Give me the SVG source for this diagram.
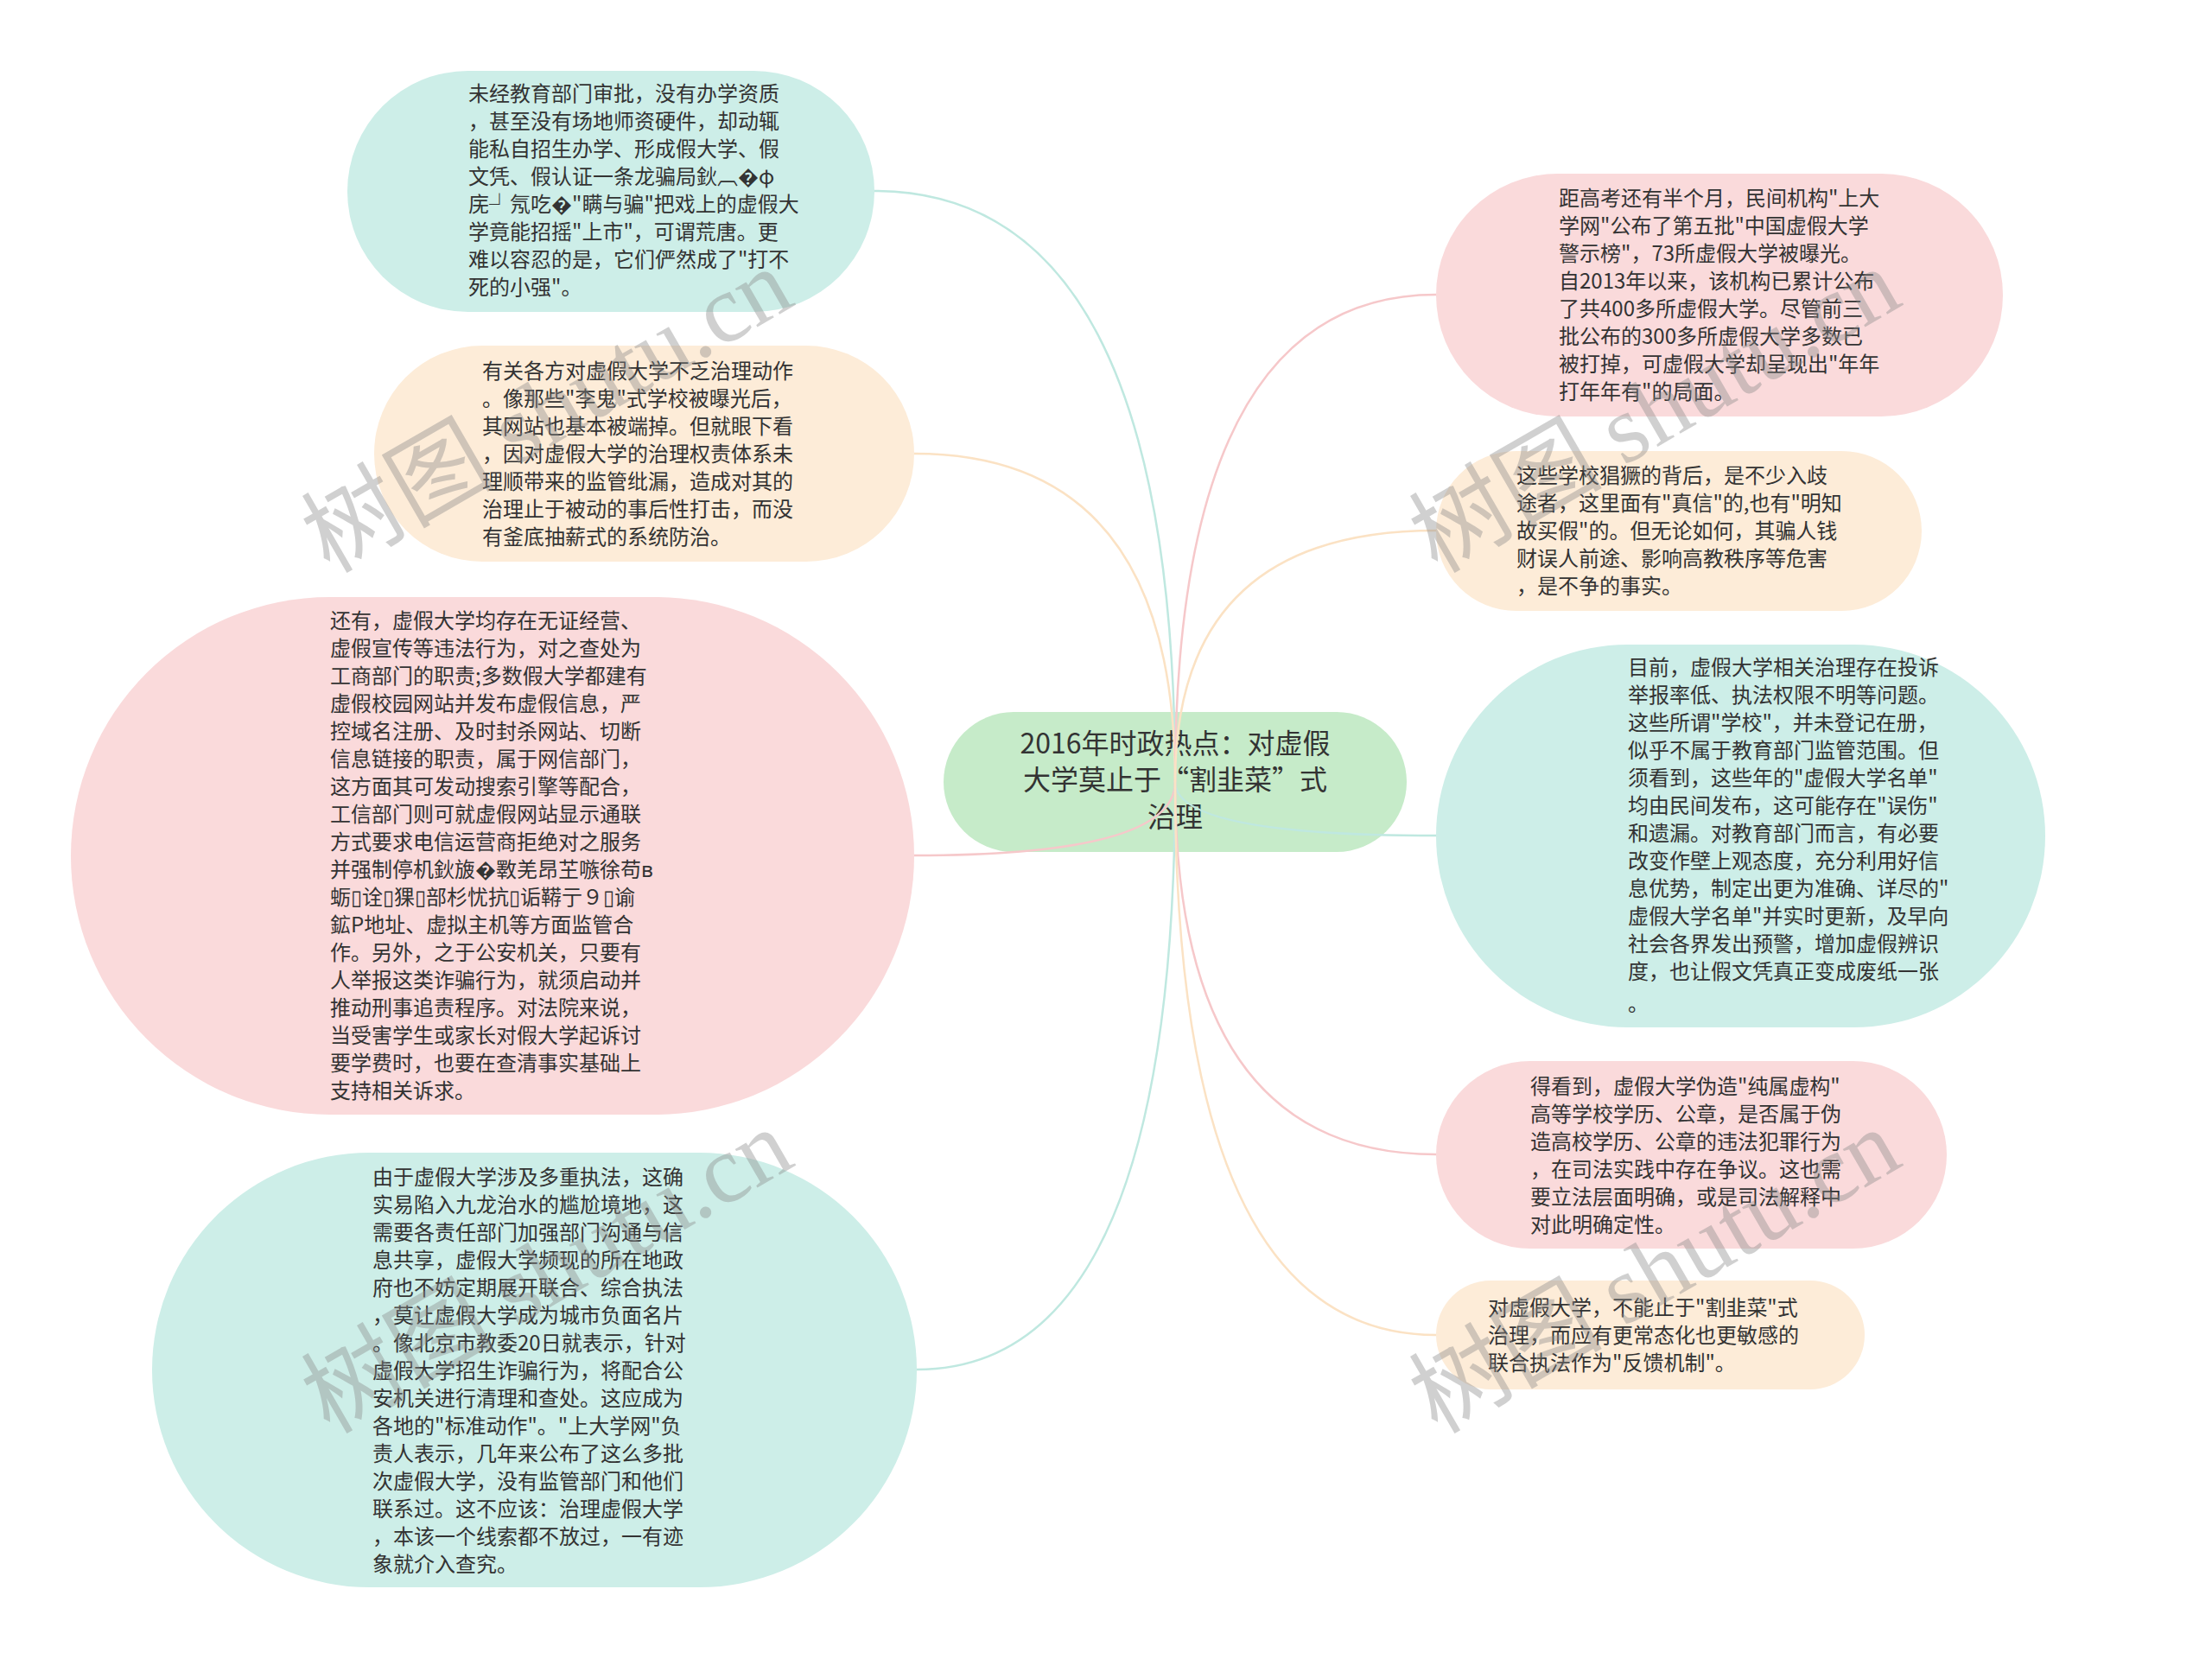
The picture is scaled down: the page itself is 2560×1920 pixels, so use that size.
<svg xmlns="http://www.w3.org/2000/svg" width="2560" height="1920" viewBox="0 0 2560 1920">
<style>
.t{font-family:"Noto Sans CJK SC","Noto Sans",sans-serif;font-size:24px;fill:#333333}
.root{font-family:"Noto Sans CJK SC","Noto Sans",sans-serif;font-size:32px;fill:#333333;text-anchor:middle}
.teal{fill:#cdeee8}
.pink{fill:#fadadb}
.peach{fill:#fdecd8}
.green{fill:#c6ebc9}
.c{fill:none;stroke-width:2.5}
.ct{stroke:#bfe8e0}
.cp{stroke:#f6c8ca}
.co{stroke:#fbe2c4}
.wm{font-family:"Noto Sans CJK SC","Liberation Serif",serif;font-size:112px;fill:#8a8a8a;fill-opacity:0.4;text-anchor:middle}
</style>
<rect width="2560" height="1920" fill="#ffffff"/>

<g id="root">
<rect class="green" x="1092" y="824" width="536" height="162" rx="81"/>
<text class="root" x="1360" y="872">2016年时政热点：对虚假</text>
<text class="root" x="1360" y="914">大学莫止于“割韭菜”式</text>
<text class="root" x="1360" y="957">治理</text>
</g>

<g id="node-a">
<rect class="teal" x="402" y="82" width="610" height="279" rx="139.5"/>
<text class="t" x="542" y="117">未经教育部门审批，没有办学资质</text>
<text class="t" x="542" y="149">，甚至没有场地师资硬件，却动辄</text>
<text class="t" x="542" y="181">能私自招生办学、形成假大学、假</text>
<text class="t" x="542" y="213">文凭、假认证一条龙骗局鈥︹�φ</text>
<text class="t" x="542" y="245">庑┘氖吃�"瞒与骗"把戏上的虚假大</text>
<text class="t" x="542" y="277">学竟能招摇"上市"，可谓荒唐。更</text>
<text class="t" x="542" y="309">难以容忍的是，它们俨然成了"打不</text>
<text class="t" x="542" y="341">死的小强"。</text>
</g>

<g id="node-b">
<rect class="peach" x="433" y="400" width="625" height="250" rx="125"/>
<text class="t" x="558" y="438">有关各方对虚假大学不乏治理动作</text>
<text class="t" x="558" y="470">。像那些"李鬼"式学校被曝光后，</text>
<text class="t" x="558" y="502">其网站也基本被端掉。但就眼下看</text>
<text class="t" x="558" y="534">，因对虚假大学的治理权责体系未</text>
<text class="t" x="558" y="566">理顺带来的监管纰漏，造成对其的</text>
<text class="t" x="558" y="598">治理止于被动的事后性打击，而没</text>
<text class="t" x="558" y="630">有釜底抽薪式的系统防治。</text>
</g>

<g id="node-c">
<rect class="pink" x="82" y="691" width="976" height="599" rx="299.5"/>
<text class="t" x="382" y="727">还有，虚假大学均存在无证经营、</text>
<text class="t" x="382" y="759">虚假宣传等违法行为，对之查处为</text>
<text class="t" x="382" y="791">工商部门的职责;多数假大学都建有</text>
<text class="t" x="382" y="823">虚假校园网站并发布虚假信息，严</text>
<text class="t" x="382" y="855">控域名注册、及时封杀网站、切断</text>
<text class="t" x="382" y="887">信息链接的职责，属于网信部门，</text>
<text class="t" x="382" y="919">这方面其可发动搜索引擎等配合，</text>
<text class="t" x="382" y="951">工信部门则可就虚假网站显示通联</text>
<text class="t" x="382" y="983">方式要求电信运营商拒绝对之服务</text>
<text class="t" x="382" y="1015">并强制停机鈥旇�斁羌昂芏嗾徐苟ʙ</text>
<text class="t" x="382" y="1047">蛎▯诠▯猓▯部杉忧抗▯诟鞯亍９▯谕</text>
<text class="t" x="382" y="1079">鉱P地址、虚拟主机等方面监管合</text>
<text class="t" x="382" y="1111">作。另外，之于公安机关，只要有</text>
<text class="t" x="382" y="1143">人举报这类诈骗行为，就须启动并</text>
<text class="t" x="382" y="1175">推动刑事追责程序。对法院来说，</text>
<text class="t" x="382" y="1207">当受害学生或家长对假大学起诉讨</text>
<text class="t" x="382" y="1239">要学费时，也要在查清事实基础上</text>
<text class="t" x="382" y="1271">支持相关诉求。</text>
</g>

<g id="node-d">
<rect class="teal" x="176" y="1334" width="885" height="503" rx="251.5"/>
<text class="t" x="431" y="1371">由于虚假大学涉及多重执法，这确</text>
<text class="t" x="431" y="1403">实易陷入九龙治水的尴尬境地，这</text>
<text class="t" x="431" y="1435">需要各责任部门加强部门沟通与信</text>
<text class="t" x="431" y="1467">息共享，虚假大学频现的所在地政</text>
<text class="t" x="431" y="1499">府也不妨定期展开联合、综合执法</text>
<text class="t" x="431" y="1531">，莫让虚假大学成为城市负面名片</text>
<text class="t" x="431" y="1563">。像北京市教委20日就表示，针对</text>
<text class="t" x="431" y="1595">虚假大学招生诈骗行为，将配合公</text>
<text class="t" x="431" y="1627">安机关进行清理和查处。这应成为</text>
<text class="t" x="431" y="1659">各地的"标准动作"。"上大学网"负</text>
<text class="t" x="431" y="1691">责人表示，几年来公布了这么多批</text>
<text class="t" x="431" y="1723">次虚假大学，没有监管部门和他们</text>
<text class="t" x="431" y="1755">联系过。这不应该：治理虚假大学</text>
<text class="t" x="431" y="1787">，本该一个线索都不放过，一有迹</text>
<text class="t" x="431" y="1819">象就介入查究。</text>
</g>

<g id="node-r1">
<rect class="pink" x="1662" y="201" width="656" height="281" rx="140.5"/>
<text class="t" x="1804" y="238">距高考还有半个月，民间机构"上大</text>
<text class="t" x="1804" y="270">学网"公布了第五批"中国虚假大学</text>
<text class="t" x="1804" y="302">警示榜"，73所虚假大学被曝光。</text>
<text class="t" x="1804" y="334">自2013年以来，该机构已累计公布</text>
<text class="t" x="1804" y="366">了共400多所虚假大学。尽管前三</text>
<text class="t" x="1804" y="398">批公布的300多所虚假大学多数已</text>
<text class="t" x="1804" y="430">被打掉，可虚假大学却呈现出"年年</text>
<text class="t" x="1804" y="462">打年年有"的局面。</text>
</g>

<g id="node-r2">
<rect class="peach" x="1662" y="522" width="562" height="185" rx="92.5"/>
<text class="t" x="1755" y="559">这些学校猖獗的背后，是不少入歧</text>
<text class="t" x="1755" y="591">途者，这里面有"真信"的,也有"明知</text>
<text class="t" x="1755" y="623">故买假"的。但无论如何，其骗人钱</text>
<text class="t" x="1755" y="655">财误人前途、影响高教秩序等危害</text>
<text class="t" x="1755" y="687">，是不争的事实。</text>
</g>

<g id="node-r3">
<rect class="teal" x="1662" y="746" width="705" height="443" rx="221.5"/>
<text class="t" x="1884" y="781">目前，虚假大学相关治理存在投诉</text>
<text class="t" x="1884" y="813">举报率低、执法权限不明等问题。</text>
<text class="t" x="1884" y="845">这些所谓"学校"，并未登记在册，</text>
<text class="t" x="1884" y="877">似乎不属于教育部门监管范围。但</text>
<text class="t" x="1884" y="909">须看到，这些年的"虚假大学名单"</text>
<text class="t" x="1884" y="941">均由民间发布，这可能存在"误伤"</text>
<text class="t" x="1884" y="973">和遗漏。对教育部门而言，有必要</text>
<text class="t" x="1884" y="1005">改变作壁上观态度，充分利用好信</text>
<text class="t" x="1884" y="1037">息优势，制定出更为准确、详尽的"</text>
<text class="t" x="1884" y="1069">虚假大学名单"并实时更新，及早向</text>
<text class="t" x="1884" y="1101">社会各界发出预警，增加虚假辨识</text>
<text class="t" x="1884" y="1133">度，也让假文凭真正变成废纸一张</text>
<text class="t" x="1884" y="1170">。</text>
</g>

<g id="node-r4">
<rect class="pink" x="1662" y="1228" width="591" height="217" rx="108.5"/>
<text class="t" x="1771" y="1266">得看到，虚假大学伪造"纯属虚构"</text>
<text class="t" x="1771" y="1298">高等学校学历、公章，是否属于伪</text>
<text class="t" x="1771" y="1330">造高校学历、公章的违法犯罪行为</text>
<text class="t" x="1771" y="1362">，在司法实践中存在争议。这也需</text>
<text class="t" x="1771" y="1394">要立法层面明确，或是司法解释中</text>
<text class="t" x="1771" y="1426">对此明确定性。</text>
</g>

<g id="node-r5">
<rect class="peach" x="1662" y="1482" width="496" height="126" rx="63"/>
<text class="t" x="1722" y="1522">对虚假大学，不能止于"割韭菜"式</text>
<text class="t" x="1722" y="1554">治理，而应有更常态化也更敏感的</text>
<text class="t" x="1722" y="1586">联合执法作为"反馈机制"。</text>
</g>

<g id="connectors">
<path class="c ct" d="M1360,905 Q1360,221 1012,221"/>
<path class="c co" d="M1360,905 Q1360,525 1058,525"/>
<path class="c cp" d="M1360,905 Q1360,990 1058,990"/>
<path class="c ct" d="M1360,905 Q1360,1585 1061,1585"/>
<path class="c cp" d="M1360,905 Q1360,341 1662,341"/>
<path class="c co" d="M1360,905 Q1360,614 1662,614"/>
<path class="c ct" d="M1360,905 Q1360,967 1662,967"/>
<path class="c cp" d="M1360,905 Q1360,1336 1662,1336"/>
<path class="c co" d="M1360,905 Q1360,1545 1662,1545"/>
</g>

<g id="watermarks">
<text class="wm" x="652" y="508" transform="rotate(-30 652 508)">树图 <tspan font-family="Liberation Serif, serif">shutu.cn</tspan></text>
<text class="wm" x="1934" y="508" transform="rotate(-30 1934 508)">树图 <tspan font-family="Liberation Serif, serif">shutu.cn</tspan></text>
<text class="wm" x="652" y="1504" transform="rotate(-30 652 1504)">树图 <tspan font-family="Liberation Serif, serif">shutu.cn</tspan></text>
<text class="wm" x="1934" y="1504" transform="rotate(-30 1934 1504)">树图 <tspan font-family="Liberation Serif, serif">shutu.cn</tspan></text>
</g>
</svg>
